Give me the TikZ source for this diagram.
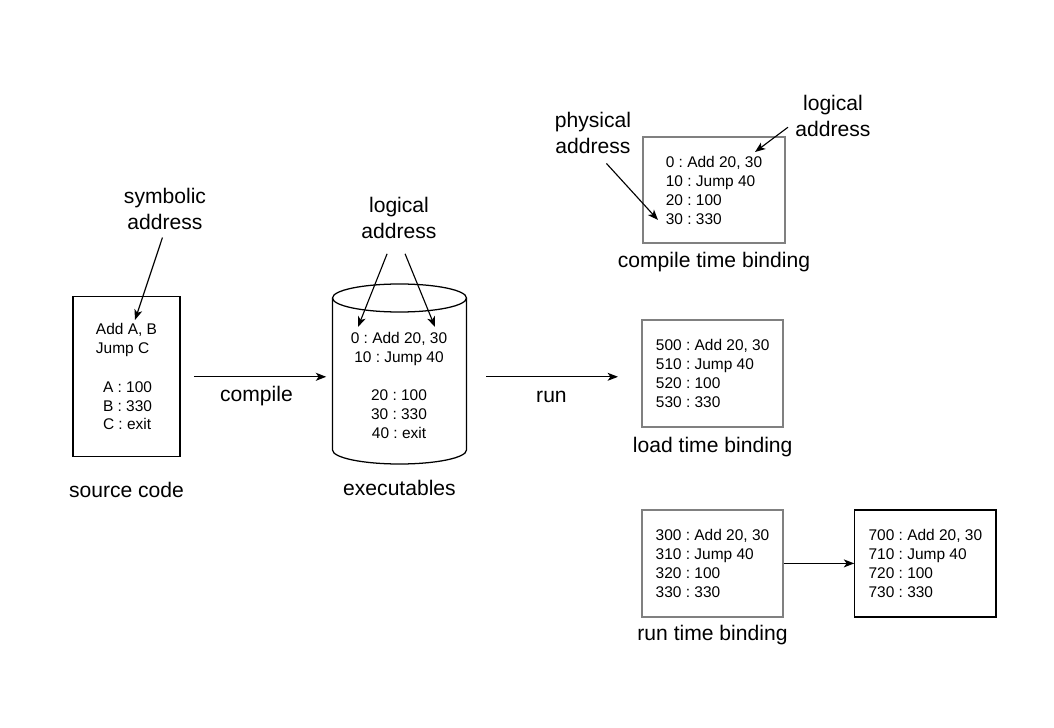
\documentclass[tikz,border=0pt]{standalone}
\usepackage{fontspec}
\setmainfont{Liberation Sans}
\usepackage{tikz}
\usetikzlibrary{arrows.meta, positioning}
\frenchspacing

\tikzset{
  prog/.style    = {draw, line width=0.9pt, align=left, inner sep=0pt, font=\fontsize{11}{13.5}\selectfont},
  greybox/.style = {prog, draw=black!50, line width=1.4pt},
  lbl/.style     = {align=center, inner sep=0pt, font=\fontsize{15}{18.4}\selectfont},
  arr/.style     = {line width=0.8pt, -{Stealth[length=2.6mm, width=2mm, inset=0.7mm]}}
}

\begin{document}
\begin{tikzpicture}[x=0.025cm, y=-0.025cm]

% one unit is one pixel of the 1054 x 728 drawing
\useasboundingbox (0,0) rectangle (1054,728);

\node [prog   , minimum width=2.675cm, minimum height=4cm    ] (src)  at (126.5,376.8) {Add A, B\\Jump C\\[13.8pt]\hspace{5pt}A : 100\\\hspace{5pt}B : 330\\\hspace{5pt}C : exit};
\node [inner sep=0pt, minimum width=3.35cm, minimum height=4.475cm] (exe) at (399.5,373.5) {};
\node [greybox, minimum width=3.55cm , minimum height=2.65cm ] (ctb)  at (714,190)     {0 : Add 20, 30\\10 : Jump 40\\20 : 100\\30 : 330};
\node [greybox, minimum width=3.525cm, minimum height=2.675cm] (ltb)  at (712.7,373.3) {500 : Add 20, 30\\510 : Jump 40\\520 : 100\\530 : 330};
\node [greybox, minimum width=3.525cm, minimum height=2.675cm] (rtb)  at (712.5,563.4) {300 : Add 20, 30\\310 : Jump 40\\320 : 100\\330 : 330};
\node [prog   , minimum width=3.525cm, minimum height=2.675cm, right of=rtb, xshift=4.32cm] (rtb2) {700 : Add 20, 30\\710 : Jump 40\\720 : 100\\730 : 330};

% the executable file as a drum
\draw [line width=0.9pt] (332.5,298) -- (332.5,450) arc [start angle=180, end angle=0, x radius=67, y radius=14] -- (466.5,298);
\draw [line width=0.9pt] (399.5,298) ellipse [x radius=67, y radius=14];
\node [align=center, inner sep=0pt, font=\fontsize{11}{13.5}\selectfont] (exetext) at (399,385.5) {0 : Add 20, 30\\10 : Jump 40\\[14pt]20 : 100\\30 : 330\\40 : exit};

\node [lbl, below of=src , yshift=-1.83cm] (srclabel) {source code};
\node [lbl, below of=exe , yshift=-1.86cm] (exelabel) {executables};
\node [lbl, below of=ctb , yshift=-0.8cm ] (ctblabel) {compile time binding};
\node [lbl, below of=ltb , yshift=-0.84cm] (ltblabel) {load time binding};
\node [lbl, below of=rtb , yshift=-0.79cm] (rtblabel) {run time binding};

\node [lbl] (symaddr)  at (165,209) {symbolic\\address};
\node [lbl] (logaddr)  at (399,218) {logical\\address};
\node [lbl] (physaddr) at (593,133) {physical\\address};
\node [lbl] (logaddrb) at (833,116) {logical\\address};

\coordinate (symtip)  at (135,320);
\coordinate (logtipa) at (358,327);
\coordinate (logtipb) at (435,327);
\coordinate (phystip) at (658,220);
\coordinate (logtipc) at (755,152);
\coordinate (runend)  at (618,376.8);

\draw [arr, shorten <=0.2cm ] (symaddr.south) -- (symtip);
\draw [arr, shorten <=0.4cm ] ([xshift=-0.15cm]logaddr.south) -- (logtipa);
\draw [arr, shorten <=0.4cm ] (logaddr.south) -- (logtipb);
\draw [arr, shorten <=0.32cm] ([xshift=0.12cm]physaddr.south) -- (phystip);
\draw [arr] ([xshift=-0.18cm, yshift=-0.28cm]logaddrb.west) -- (logtipc);

\draw [arr, shorten <=0.33cm, shorten >=0.15cm] (src.east) -- node [lbl, midway, yshift=-0.475cm] {compile} (src.east -| exe.west);
\draw [arr, shorten <=0.48cm] (src.east -| exe.east) -- node [lbl, pos=0.56, yshift=-0.5cm] {run} (runend);
\draw [arr] (rtb) -- (rtb2);

\end{tikzpicture}
\end{document}
